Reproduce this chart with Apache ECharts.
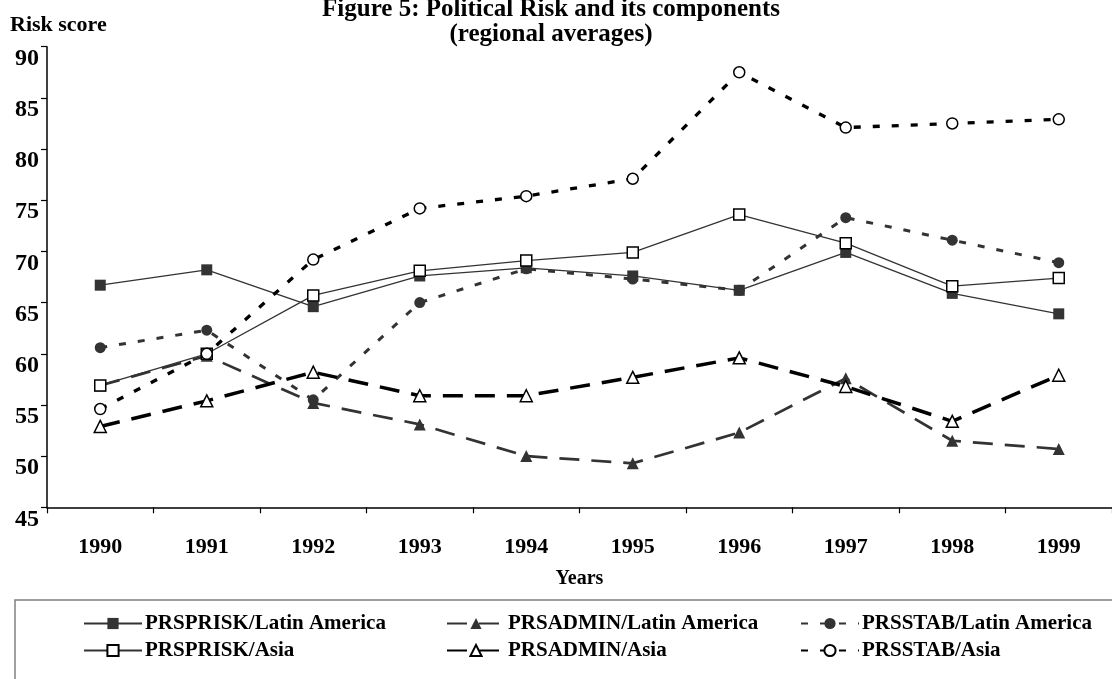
<!DOCTYPE html>
<html>
<head>
<meta charset="utf-8">
<title>Figure 5</title>
<script src="https://cdn.jsdelivr.net/npm/echarts@6/dist/echarts.min.js"></script>
<style>
  html, body { margin: 0; padding: 0; background: #fff; }
  #chart { width: 1112px; height: 679px; }
</style>
</head>
<body>
<div id="chart"></div>
<script>
// data
const years = ['1990', '1991', '1992', '1993', '1994', '1995', '1996', '1997', '1998', '1999'];
const yTicks = [45, 50, 55, 60, 65, 70, 75, 80, 85, 90];

const priskLatam = [66.7, 68.2, 64.6, 67.6, 68.4, 67.6, 66.2, 69.9, 65.9, 63.9];
const adminLatam = [56.9, 59.8, 55.2, 53.1, 50.0, 49.3, 52.3, 57.6, 51.5, 50.7];
const stabLatam = [60.6, 62.3, 55.5, 65.0, 68.3, 67.3, 66.2, 73.3, 71.1, 68.9];
const priskAsia = [56.9, 60.0, 65.7, 68.1, 69.1, 69.9, 73.6, 70.8, 66.6, 67.4];
const adminAsia = [52.9, 55.4, 58.2, 55.9, 55.9, 57.7, 59.6, 56.8, 53.4, 57.9];
const stabAsia = [54.6, 60.0, 69.2, 74.2, 75.4, 77.1, 87.5, 82.1, 82.5, 82.9];

const FONT = '"Liberation Serif", "Times New Roman", serif';
const DARK = '#333333';
const BLACK = '#000000';

const makeSeries = (name, data, symbol, filled, color, lineWidth, dash) => ({
  name: name,
  type: 'line',
  data: data,
  symbol: symbol,
  symbolSize: symbol === 'triangle' ? 12 : 11,
  showSymbol: true,
  animation: false,
  itemStyle: {
    color: filled ? color : '#ffffff',
    borderColor: filled ? color : BLACK,
    borderWidth: filled ? 0 : 1.5
  },
  lineStyle: { color: color, width: lineWidth, type: dash },
  emphasis: { disabled: true }
});

const seriesList = [
  makeSeries('PRSPRISK/Latin America', priskLatam, 'rect', true, DARK, 1.3, 'solid'),
  makeSeries('PRSADMIN/Latin America', adminLatam, 'triangle', true, DARK, 2.7, [20, 12]),
  makeSeries('PRSSTAB/Latin America', stabLatam, 'circle', true, DARK, 3, [7, 12]),
  makeSeries('PRSPRISK/Asia', priskAsia, 'rect', false, DARK, 1.3, 'solid'),
  makeSeries('PRSADMIN/Asia', adminAsia, 'triangle', false, BLACK, 3.5, [20, 12]),
  makeSeries('PRSSTAB/Asia', stabAsia, 'circle', false, BLACK, 3.3, [7, 12])
];

// legend: 3 columns x 2 rows, one legend per item so the columns line up
const legendCols = [78, 441, 795];
const legendRows = [608, 635];
const legends = seriesList.map((s, i) => ({
  data: [s.name],
  left: legendCols[i % 3],
  top: legendRows[Math.floor(i / 3)],
  itemWidth: 58,
  itemHeight: 14,
  selectedMode: false,
  textStyle: { fontFamily: FONT, fontWeight: 'bold', fontSize: 21, color: BLACK, padding: [0, 0, 0, -2] }
}));

const chart = echarts.init(document.getElementById('chart'));

chart.setOption({
  backgroundColor: '#ffffff',
  animation: false,
  title: [
    {
      text: 'Figure 5: Political Risk and its components\n(regional averages)',
      left: 546,
      top: -8,
      textAlign: 'center',
      textStyle: { fontFamily: FONT, fontWeight: 'bold', fontSize: 25, lineHeight: 25, color: BLACK }
    },
    {
      text: 'Risk score',
      left: 5,
      top: 9,
      textStyle: { fontFamily: FONT, fontWeight: 'bold', fontSize: 22, color: BLACK }
    }
  ],
  legend: legends,
  grid: { left: 47, top: 46.7, width: 1077, height: 460.6, containLabel: false },
  xAxis: {
    type: 'category',
    data: years,
    boundaryGap: true,
    name: 'Years',
    nameLocation: 'middle',
    nameGap: 62,
    nameTextStyle: { fontFamily: FONT, fontWeight: 'bold', fontSize: 20, color: BLACK },
    axisLine: { lineStyle: { color: BLACK, width: 1.5 } },
    axisTick: { show: true, length: 6, lineStyle: { color: BLACK, width: 1.2 } },
    axisLabel: { margin: 29, fontFamily: FONT, fontWeight: 'bold', fontSize: 22, color: BLACK },
    splitLine: { show: false }
  },
  yAxis: {
    type: 'value',
    min: yTicks[0],
    max: yTicks[yTicks.length - 1],
    interval: 5,
    axisLine: { show: true, lineStyle: { color: BLACK, width: 1.5 } },
    axisTick: { show: true, length: 6, lineStyle: { color: BLACK, width: 1.2 } },
    axisLabel: {
      margin: 8,
      verticalAlign: 'top',
      fontFamily: FONT,
      fontWeight: 'bold',
      fontSize: 24,
      color: BLACK
    },
    splitLine: { show: false }
  },
  graphic: [
    {
      type: 'rect',
      silent: true,
      shape: { x: 15, y: 600, width: 1200, height: 200 },
      style: { fill: 'none', stroke: '#808080', lineWidth: 1.5 }
    }
  ],
  series: seriesList
});
</script>
</body>
</html>
